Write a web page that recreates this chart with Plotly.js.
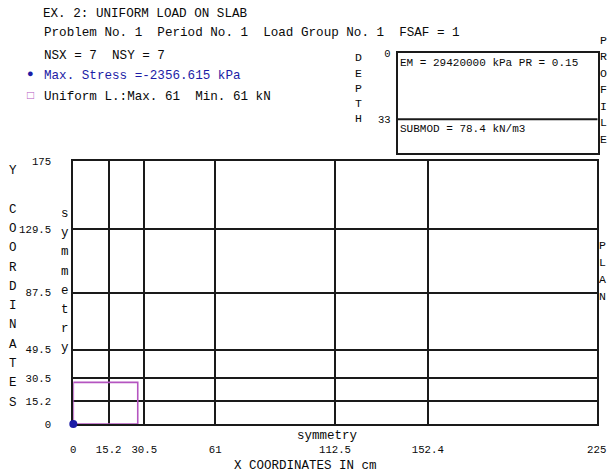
<!DOCTYPE html>
<html>
<head>
<meta charset="utf-8">
<script src="https://cdn.plot.ly/plotly-3.0.1.min.js"></script>
<style>html,body{margin:0;padding:0;background:#fff;}#chart{width:608px;height:475px;}</style>
</head>
<body>
<div id="chart"></div>
<script>
// ---- data ----
const xGrid = [0, 15.2, 30.5, 61, 112.5, 152.4, 225];
const xTickText = ['0', '15.2', '30.5', '61', '112.5', '152.4', '225'];
const yGrid = [0, 15.2, 30.5, 49.5, 87.5, 129.5, 175];
const yTickText = ['0', '15.2', '30.5', '49.5', '87.5', '129.5', '175'];
const loadX = [0, 27.7];
const loadY = [0, 27.7];
const stressX = [0];
const stressY = [0];
const layerDepths = [0, 33];
const depthBottom = 49.7;
const layerLabels = ['EM = 29420000 kPa PR = 0.15', 'SUBMOD = 78.4 kN/m3'];
const headerLines = [
  'EX. 2: UNIFORM LOAD ON SLAB',
  'Problem No. 1  Period No. 1  Load Group No. 1  FSAF = 1',
  'NSX = 7  NSY = 7'
];
const stressLabel = 'Max. Stress =-2356.615 kPa';
const loadLabel = 'Uniform L.:Max. 61  Min. 61 kN';
const xTitle = 'X COORDINATES IN cm';
const yTitle = 'Y COORDINATES';

// ---- helpers ----
const W = 608, H = 475;
const F = 'Liberation Mono, Courier New, monospace';
const TXT = '#0a0a0a';
const BLUE = '#1c1ca6';
const PINK = '#b455c0';
const px = x => x / W;
const py = y => (H - y) / H;
const ann = [];
function htext(str, x, y, size, color, anchor) {
  ann.push({xref:'paper', yref:'paper', x:px(x), y:py(y), text:str, showarrow:false,
    xanchor:anchor || 'left', yanchor:'middle', font:{family:F, size:size, color:color || TXT}});
}
function vtext(str, x, y0, step, size, color) {
  [...str].forEach((c, i) => {
    if (c.trim()) htext(c, x, y0 + i * step, size, color, 'center');
  });
}

// header
htext(headerLines[0], 41, 14, 12.6);
htext(headerLines[1], 42, 33, 12.6);
htext(headerLines[2], 42, 56, 12.6);
htext('\u25CF', 30, 74, 11, BLUE, 'center');
htext(stressLabel, 42, 76, 12.6, BLUE);
htext('<b>\u25A1</b>', 30, 96, 12, PINK, 'center');
htext(loadLabel, 42, 97, 12.6);

// vertical labels
vtext(yTitle, 13, 171, 19.3, 12.5);
vtext('symmetry', 65, 214, 19.2, 12.5);
vtext('DEPTH', 358, 58, 15.2, 11.5);
vtext('PROFILE', 603, 40, 16.6, 11.5);
vtext('PLAN', 602, 245, 17.3, 11.5);

// axis captions
htext('symmetry', 327, 436, 12.5, TXT, 'center');
htext(xTitle, 305, 466, 12.5, TXT, 'center');

// layer labels in depth box
layerLabels.forEach((t, i) => {
  ann.push({xref:'x2', yref:'y2', x:0, y:layerDepths[i] + 5, text:t, showarrow:false,
    xanchor:'left', yanchor:'middle', font:{family:F, size:11, color:TXT}});
});

// ---- traces ----
const rectX = [loadX[0], loadX[1], loadX[1], loadX[0], loadX[0]];
const rectY = [loadY[0], loadY[0], loadY[1], loadY[1], loadY[0]];
const traces = [
  {x: rectX, y: rectY, mode:'lines', line:{color:PINK, width:1.6}, hoverinfo:'skip', showlegend:false, xaxis:'x', yaxis:'y'},
  {x: stressX, y: stressY, mode:'markers', marker:{color:BLUE, size:8}, cliponaxis:false, showlegend:false, xaxis:'x', yaxis:'y'},
  {x: [0, 1], y: [layerDepths[1], layerDepths[1]], mode:'lines', line:{color:'#1a1a1a', width:2}, showlegend:false, xaxis:'x2', yaxis:'y2'}
];

const axLine = {showline:true, mirror:true, linecolor:'#1a1a1a', linewidth:2, zeroline:false};
const layout = {
  width: W, height: H,
  margin: {l:0, r:0, t:0, b:0},
  paper_bgcolor:'#fff', plot_bgcolor:'#fff',
  showlegend:false,
  xaxis: Object.assign({}, axLine, {
    domain:[73.3 / W, 596.7 / W], range:[0, 225], anchor:'y',
    tickmode:'array', tickvals:xGrid, ticktext:xTickText, ticks:'',
    showgrid:true, gridcolor:'#1a1a1a', gridwidth:2, layer:'below traces',
    tickfont:{family:F, size:10.7, color:TXT}, ticklabelstandoff:14
  }),
  yaxis: Object.assign({}, axLine, {
    domain:[(H - 424) / H, (H - 161) / H], range:[0, 175], anchor:'x',
    tickmode:'array', tickvals:yGrid, ticktext:yTickText, ticks:'',
    showgrid:true, gridcolor:'#1a1a1a', gridwidth:2, layer:'below traces',
    tickfont:{family:F, size:10.7, color:TXT}, ticklabelstandoff:18
  }),
  xaxis2: Object.assign({}, axLine, {
    domain:[397.7 / W, 597.7 / W], range:[0, 1], anchor:'y2',
    showticklabels:false, ticks:'', showgrid:false
  }),
  yaxis2: Object.assign({}, axLine, {
    domain:[(H - 152.7) / H, (H - 53.3) / H], range:[depthBottom, 0], anchor:'x2',
    tickmode:'array', tickvals:layerDepths, ticktext:layerDepths.map(String), ticks:'',
    showgrid:false, tickfont:{family:F, size:10.5, color:TXT}, ticklabelstandoff:3
  }),
  annotations: ann
};
Plotly.newPlot('chart', traces, layout, {staticPlot:true, displayModeBar:false});
</script>
</body>
</html>
